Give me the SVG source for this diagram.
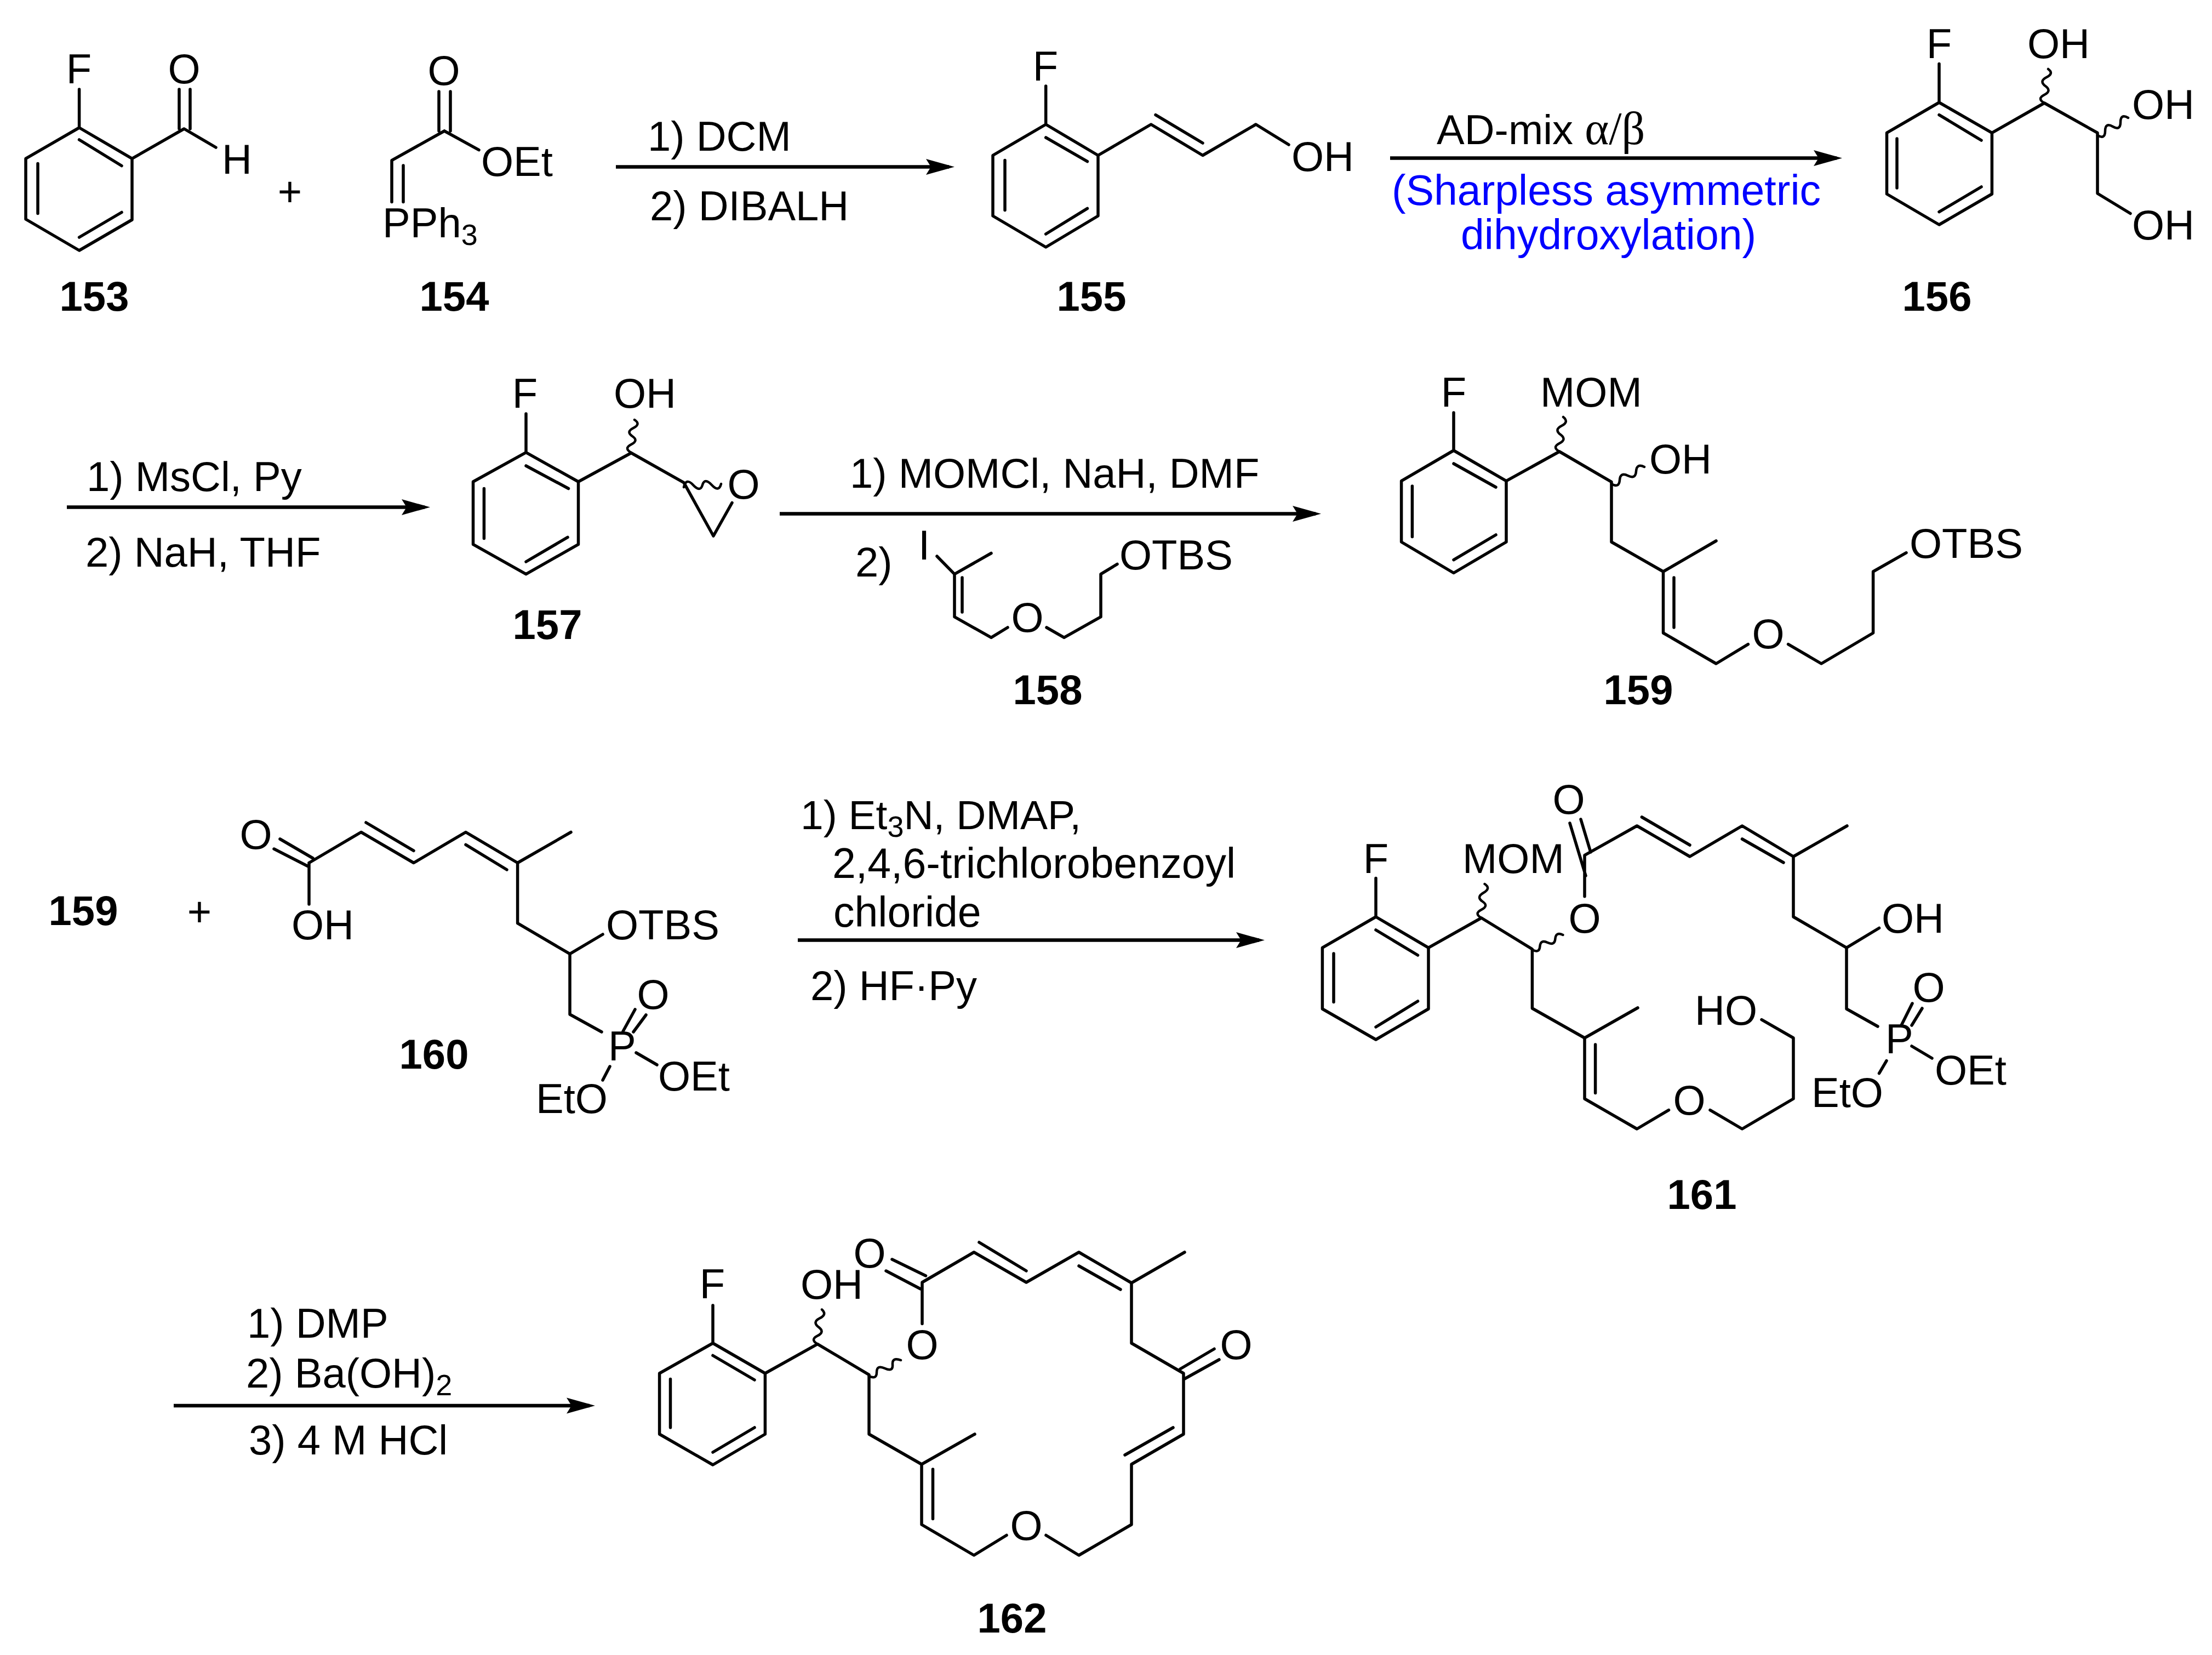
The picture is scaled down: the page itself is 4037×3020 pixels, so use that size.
<svg xmlns="http://www.w3.org/2000/svg" width="4037" height="3020" viewBox="0 0 4037 3020">
<style>
.b{fill:none;stroke:#000;stroke-width:5.500;stroke-linejoin:round;stroke-linecap:round}
.w{fill:none;stroke:#000;stroke-width:4.500;stroke-linecap:round}
.a{fill:none;stroke:#000;stroke-width:6.500}
text{font-family:"Liberation Sans",Arial,sans-serif;font-size:76px;fill:#000}
.n{font-weight:bold;text-anchor:middle}
.m{text-anchor:middle}
.g{font-family:"Liberation Serif","Times New Roman",serif;font-size:84px}
.s{font-size:54px}
.blue{fill:#0000ff;font-size:77px}
.l{font-size:77px}
.c{font-size:75px}
</style>
<defs>
<marker id="head" markerUnits="userSpaceOnUse" markerWidth="52" markerHeight="30" viewBox="-52 -15 52 30" refX="-10" refY="0" orient="auto"><path d="M0 0L-52 -14.500L-43 0L-52 14.500Z" fill="#000"/></marker>
</defs>
<rect width="4037" height="3020" fill="#fff"/>
<g id="connectors">
<line class="a" x1="1124" y1="304.500" x2="1732" y2="304.500" marker-end="url(#head)"/>
<line class="a" x1="2537" y1="288.500" x2="3352" y2="288.500" marker-end="url(#head)"/>
<line class="a" x1="122" y1="925.500" x2="775" y2="925.500" marker-end="url(#head)"/>
<line class="a" x1="1423" y1="937.500" x2="2401" y2="937.500" marker-end="url(#head)"/>
<line class="a" x1="1456" y1="1715.500" x2="2298" y2="1715.500" marker-end="url(#head)"/>
<line class="a" x1="317" y1="2565" x2="1076" y2="2565" marker-end="url(#head)"/>
</g>
<g id="cond1">
<text x="1182" y="275">1) DCM</text>
<text x="1186" y="402">2) DIBALH</text>
</g>
<g id="cond2">
<text x="2622" y="263">AD-mix <tspan class="g">α/β</tspan></text>
<text class="blue" x="2540" y="374">(Sharpless asymmetric</text>
<text class="blue" x="2666" y="455">dihydroxylation)</text>
</g>
<g id="cond3">
<text x="158" y="896">1) MsCl, Py</text>
<text x="156" y="1034">2) NaH, THF</text>
</g>
<g id="cond4">
<text x="1551" y="890">1) MOMCl, NaH, DMF</text>
<text x="1561" y="1052">2)</text>
</g>
<g id="cond5">
<text class="c" x="1461" y="1513">1) Et<tspan class="s" dy="14">3</tspan><tspan dy="-14">N, DMAP,</tspan></text>
<text class="l" x="1519" y="1602">2,4,6-trichlorobenzoyl</text>
<text class="l" x="1521" y="1691">chloride</text>
<text x="1479" y="1825">2) HF·Py</text>
</g>
<g id="cond6">
<text x="451" y="2441">1) DMP</text>
<text x="449" y="2532">2) Ba(OH)<tspan class="s" dy="14">2</tspan></text>
<text x="454" y="2654">3) 4 M HCl</text>
</g>
<g id="c153">
<path class="b" d="M144.600 233L241 289.400V401L144.600 457L47 400V289.400ZM69 298.500V389.500M144.600 255L222 302.500M144.600 433L222 387.500M144.600 163V233M241 289.400L336 235L394 269M327 163V235M347 163V235"/>
<text class="m" x="144" y="152">F</text><text class="m" x="336" y="152">O</text><text x="405" y="317">H</text>
<text class="n" x="172" y="567">153</text>
</g>
<text id="plus1" class="m" x="529" y="376">+</text>
<g id="c154">
<path class="b" d="M811 239L874 273.600M811 239L715 292.600V368.500M736 302V368.500M801 167V239M822 167V239"/>
<text class="m" x="810" y="155">O</text><text x="878" y="321">OEt</text>
<text x="698" y="433">PPh<tspan class="s" dy="14">3</tspan></text>
<text class="n" x="829" y="567">154</text>
</g>
<g id="c155">
<path class="b" d="M1908.700 227L2004 283.500V394L1908.700 451L1812 394V283.500ZM1834 292.600V383.500M1908.700 251L1984.500 294.600M1908.700 427L1984.500 380.400M1908.700 157V227M2004 283.500L2100.700 227L2195 283.500L2292 227L2352 264M2109 209.600L2195 261"/>
<text class="m" x="1908" y="147">F</text><text x="2357" y="312">OH</text>
<text class="n" x="1992" y="567">155</text>
</g>
<g id="c156">
<path class="b" d="M3539 187L3635.400 242.400V354L3539 410L3443.500 354V242.400ZM3462 253V343M3539 209.600L3616 256M3539 386.700L3616 341M3539 116.600V187M3635.400 242.400L3731 188L3828 242.400V353L3888 389.500"/>
<path class="w" d="M3731 188q-14 -8 0 -15t2 -16t2 -16t3 -15M3828 247q14 8 14 -8t14 -8t14 -8t14 -8"/>
<text class="m" x="3539" y="106">F</text><text x="3700" y="106">OH</text><text x="3891" y="217">OH</text><text x="3891" y="437">OH</text>
<text class="n" x="3535" y="567">156</text>
</g>
<g id="c157">
<path class="b" d="M960 825.600L1055.500 879V993.400L960 1047.600L863.500 993.400V879ZM883.400 891.500V982.600M960 850L1037.500 891.500M960 1025L1036 980.400M960 755V825.600M1055.500 879L1152 826.500L1248 880.700L1302 978L1336 917.500"/>
<path class="w" d="M1152 826q-14 -8 0 -15t2 -15t2 -15t2 -15M1248 889q4 -18 17 -4t17 0t17 0t17 -2"/>
<text class="m" x="958" y="744">F</text><text x="1120" y="744">OH</text><text class="m" x="1357" y="910">O</text>
<text class="n" x="999" y="1166">157</text>
</g>
<g id="c158">
<path class="b" d="M1710 1015L1742 1047.600L1809 1009.500M1742 1047.600V1125.700L1809 1163.400L1839 1145M1756 1054V1117M1910 1145L1942 1163.400L2009 1125.700V1047.600L2039 1029.400"/>
<text x="1676" y="1021">I</text><text class="m" x="1875" y="1153">O</text><text x="2043" y="1039">OTBS</text>
<text class="n" x="1912" y="1285">158</text>
</g>
<g id="c159">
<path class="b" d="M2653 822L2749 877.600V989L2653 1045.500L2557.600 989V877.600ZM2577.400 887V979.500M2653 846L2730 889M2653 1021.600L2730 976M2653 753V822M2749 877.600L2846 824L2941 879.400V989L3035.500 1043L3132 987M3035.500 1043V1155L3132 1211L3190.400 1175.600M3055 1054V1145M3263.600 1175.600L3324 1211L3418.600 1155V1043L3479 1008.600"/>
<path class="w" d="M2846 824q-14 -8 0 -15t2 -16t2 -16t3 -16M2941 883q14 8 15 -7t15 -8t15 -8t15 -8"/>
<text class="m" x="2653" y="742">F</text><text x="2811" y="742">MOM</text><text x="3010" y="864">OH</text>
<text class="m" x="3227" y="1183">O</text><text x="3485" y="1018">OTBS</text>
<text class="n" x="2990" y="1285">159</text>
</g>
<g id="l159b"><text class="n" x="152" y="1688">159</text><text class="m" x="364" y="1690">+</text></g>
<g id="c160">
<path class="b" d="M564 1574.500V1650M564 1574.500L659 1518.500L755 1574.500L850 1518.500L944.600 1574.500L1042 1518.500M944.600 1574.500V1684.700L1040 1740.700L1100 1705M1040 1740.700V1851L1098 1883M668 1501L755 1552.400M850 1541.400L925 1587M511 1531L571 1566M500 1549L562.500 1581M1137 1882L1159 1842M1156 1883L1179 1852M1161 1921L1199 1943M1113 1946L1100 1971"/>
<text class="m" x="467" y="1549">O</text><text x="532" y="1714">OH</text><text x="1106" y="1714">OTBS</text>
<text x="1110" y="1935">P</text><text class="m" x="1192" y="1841">O</text><text x="1201" y="1990">OEt</text><text x="978" y="2031">EtO</text>
<text class="n" x="792" y="1950">160</text>
</g>
<g id="c161">
<path class="b" d="M2511 1673L2607 1729.400V1841L2511 1897L2413.400 1841V1729.400ZM2434 1740V1828.500M2511 1697L2587.500 1743M2511 1874L2587.500 1827M2511 1602.500V1673M2607 1729.400L2703.600 1675L2796.400 1732V1840L2892 1894L2989 1839M2892 1894V2005L2987.500 2060L3045.500 2025.600M2911.600 1906V1994.600M3121 2025.600L3179.500 2060L3273 2005V1894L3215 1860.600M2892 1635.700V1560.700L2987.500 1507L3084 1563L3179.500 1507L3273 1563L3371 1507M3273 1563V1673L3370 1729.400L3429.500 1693.500M3370 1729.400V1841L3427 1873M2996.400 1491L3084 1542M3179.500 1531L3255 1574M2865 1502L2894 1598M2885 1495L2903 1555M3470 1871L3490 1831M3489 1871L3508 1840M3489 1909L3526 1931M3443 1935.600L3429.500 1958.600"/>
<path class="w" d="M2703.600 1675q-14 -8 0 -15t2 -15t2 -16t2 -16M2796.400 1733q13 7 14 -6t14 -7t14 -7t14 -7"/>
<text class="m" x="2511" y="1593">F</text><text x="2669" y="1593">MOM</text><text class="m" x="2863" y="1485">O</text><text class="m" x="2892" y="1702">O</text>
<text x="3434" y="1702">OH</text><text x="3093" y="1870">HO</text><text class="m" x="3083" y="2034">O</text>
<text x="3441" y="1922">P</text><text class="m" x="3520" y="1828">O</text><text x="3531" y="1979">OEt</text><text x="3306" y="2020">EtO</text>
<text class="n" x="3106" y="2206">161</text>
</g>
<g id="c162">
<path class="b" d="M1301 2451L1396.400 2506V2617L1301 2673L1203.600 2617V2506ZM1223.500 2516.400V2605M1301 2473.500L1377 2518M1301 2650L1377 2605M1301 2382V2451M1396.400 2506L1492 2452.600L1586 2508.600V2617L1682 2672L1779 2617M1682 2672V2782L1777.500 2838L1837 2801.500M1702.500 2681V2771.600M1909 2801.500L1969 2838L2065 2782V2672L2160 2617V2506L2065 2451V2341L2162 2285M2065 2341L1969 2285L1873 2340L1777.500 2285L1683 2340V2415.500M2053 2655L2141 2605M1969 2310L2045 2353M1787 2267L1873 2319M1628 2298L1689.500 2328M1617 2319L1680 2352M2154 2498L2216 2461.500M2162 2516L2225 2481"/>
<path class="w" d="M1492 2452.600q-14 -8 0 -15t2 -16t2 -16t4 -16M1586 2511q14 7 14 -7t15 -7t14 -7t15 -8"/>
<text class="m" x="1300" y="2369">F</text><text x="1461" y="2370">OH</text><text class="m" x="1587" y="2313">O</text><text class="m" x="1683" y="2480">O</text>
<text class="m" x="1873" y="2810">O</text><text class="m" x="2256" y="2480">O</text>
<text class="n" x="1847" y="2979">162</text>
</g>
</svg>
